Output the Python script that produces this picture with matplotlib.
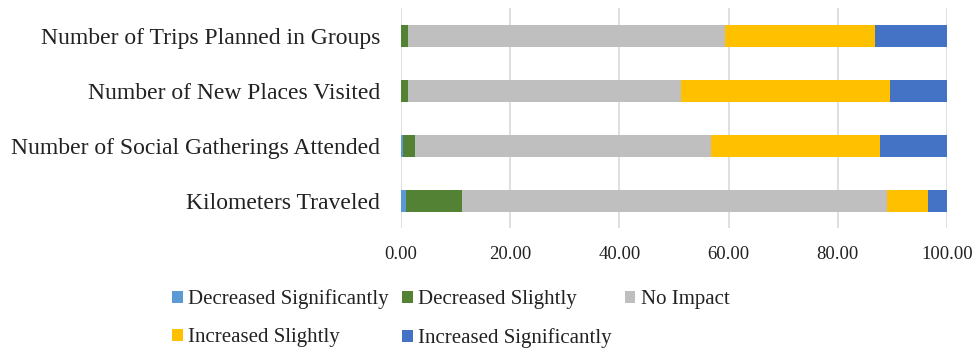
import matplotlib.pyplot as plt
import numpy as np

plt.rcParams['font.family'] = ['Liberation Serif', 'DejaVu Serif']

# categories listed bottom to top
categories = ["Kilometers Traveled",
              "Number of Social Gatherings Attended",
              "Number of New Places Visited",
              "Number of Trips Planned in Groups"]

decreased_sig = [1.0, 0.4, 0.0, 0.0]
decreased_slight = [10.2, 2.2, 1.3, 1.2]
no_impact = [77.8, 54.2, 50.0, 58.1]
increased_slight = [7.5, 30.9, 38.3, 27.5]
increased_sig = [3.5, 12.3, 10.4, 13.2]

series = [("Decreased Significantly", decreased_sig, "#5B9BD5"),
          ("Decreased Slightly", decreased_slight, "#548235"),
          ("No Impact", no_impact, "#BFBFBF"),
          ("Increased Slightly", increased_slight, "#FFC000"),
          ("Increased Significantly", increased_sig, "#4472C4")]

fig = plt.figure(figsize=(9.79, 3.48), dpi=100)
ax = fig.add_axes([0.4096, 0.3448, 0.5577, 0.6308])

y = np.arange(len(categories))
left = np.zeros(len(categories))
handles = []
for name, vals, color in series:
    b = ax.barh(y, vals, left=left, height=0.4, color=color, label=name, zorder=3)
    handles.append(b)
    left += np.array(vals)

ax.set_xlim(0, 100)
ax.set_ylim(-0.5, 3.5)
ax.set_xticks([0, 20, 40, 60, 80, 100])
ax.set_xticklabels(["%.2f" % v for v in [0, 20, 40, 60, 80, 100]], fontsize=13.5, color="#222222")
ax.set_yticks(y)
ax.set_yticklabels(categories, fontsize=17, color="#222222")
ax.tick_params(axis='y', length=0, pad=15)
ax.tick_params(axis='x', length=0, pad=13)
ax.grid(axis='x', color="#D9D9D9", linewidth=1.2, zorder=0)
for s in ax.spines.values():
    s.set_visible(False)

# legend filled column-wise, so reorder to read row by row
order = [0, 3, 1, 4, 2]
leg = fig.legend([handles[i] for i in order], [series[i][0] for i in order],
                 loc='lower left', bbox_to_anchor=(0.157, -0.054), ncol=3, frameon=False,
                 fontsize=15, handlelength=0.5, handleheight=0.5, handletextpad=0.25,
                 columnspacing=0.65, labelspacing=0.9)
for t in leg.get_texts():
    t.set_color("#222222")

fig.savefig("out.png", dpi=100)
